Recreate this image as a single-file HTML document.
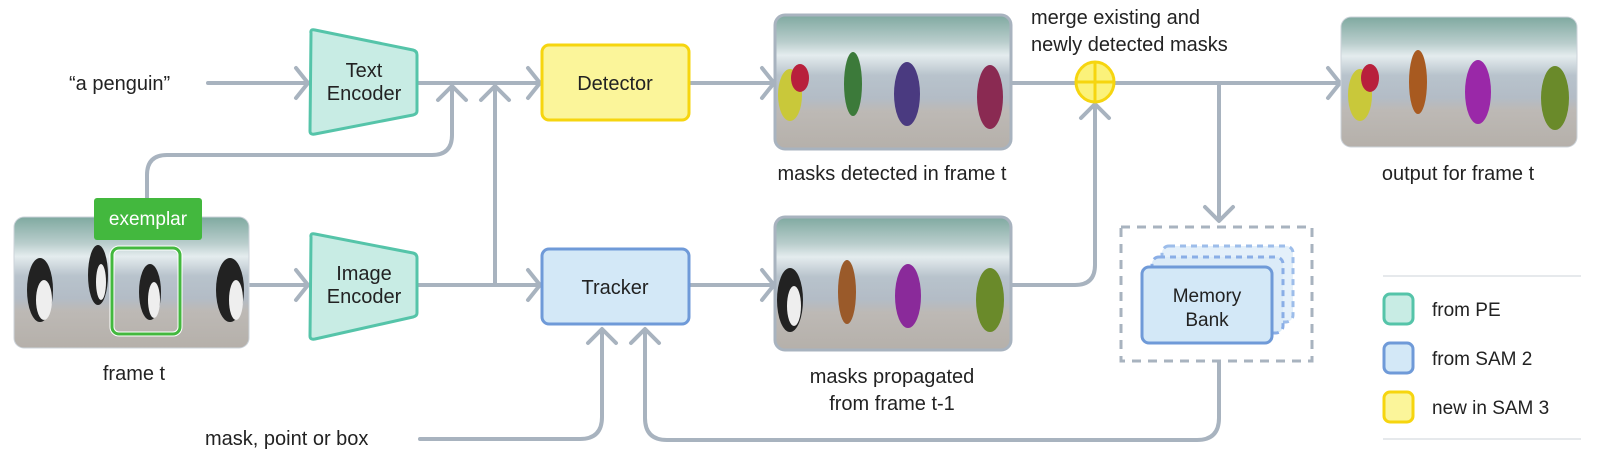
<!DOCTYPE html>
<html><head><meta charset="utf-8"><style>
body{margin:0;background:#fff;}
svg{display:block;font-family:"Liberation Sans",sans-serif;}
</style></head><body>
<svg width="1614" height="469" viewBox="0 0 1614 469" xmlns="http://www.w3.org/2000/svg">
<defs>
<linearGradient id="beach" x1="0" y1="0" x2="0" y2="1">
<stop offset="0" stop-color="#7fa9a0"/><stop offset="0.2" stop-color="#b9cdcc"/><stop offset="0.3" stop-color="#e4ecee"/><stop offset="0.45" stop-color="#b8c3cc"/><stop offset="0.62" stop-color="#b3bcc6"/><stop offset="0.72" stop-color="#bdb9b5"/><stop offset="1" stop-color="#b5b0aa"/>
</linearGradient>
<clipPath id="c1"><rect x="14" y="217" width="235" height="131" rx="10"/></clipPath>
<clipPath id="c2"><rect x="775" y="15" width="236" height="134" rx="10"/></clipPath>
<clipPath id="c3"><rect x="775" y="217" width="236" height="133" rx="10"/></clipPath>
<clipPath id="c4"><rect x="1341" y="17" width="236" height="130" rx="10"/></clipPath>
</defs>
<g fill="none" stroke="#a8b3bf" stroke-width="4" stroke-linecap="round" stroke-linejoin="round">
<!-- a penguin -> text encoder -->
<path d="M208 83 H306"/><path d="M296 68 L308 83 L296 98"/>
<!-- text encoder -> detector -->
<path d="M417 83 H538"/><path d="M528 68 L540 83 L528 98"/>
<!-- exemplar up -->
<path d="M147 198 V175 Q147 155 167 155 H432 Q452 155 452 135 V87"/><path d="M438 100 L452 86 L466 100"/>
<!-- image line up -->
<path d="M495 285 V87"/><path d="M481 100 L495 86 L509 100"/>
<!-- frame -> image encoder -->
<path d="M249 285 H306"/><path d="M296 270 L308 285 L296 300"/>
<path d="M417 285 H538"/><path d="M528 270 L540 285 L528 300"/>
<!-- detector -> masks -->
<path d="M689 83 H772"/><path d="M762 68 L774 83 L762 98"/>
<!-- tracker -> masks -->
<path d="M689 285 H772"/><path d="M762 270 L774 285 L762 300"/>
<!-- masks detected -> merge -> output -->
<path d="M1011 83 H1338"/><path d="M1328 68 L1340 83 L1328 98"/>
<!-- propagated -> merge -->
<path d="M1011 285 H1075 Q1095 285 1095 265 V106"/><path d="M1081 118 L1095 104 L1109 118"/>
<!-- branch to memory -->
<path d="M1219 83 V220"/><path d="M1205 207 L1219 221 L1233 207"/>
<!-- memory -> tracker -->
<path d="M1219 362 V418 Q1219 440 1197 440 H667 Q645 440 645 418 V330"/><path d="M631 343 L645 329 L659 343"/>
<!-- mask point box -->
<path d="M420 439 H580 Q602 439 602 417 V330"/><path d="M588 343 L602 329 L616 343"/>
</g>
<!-- encoders -->
<path d="M311 33 Q310 29 315 30 L413 50 Q417 51 417 55 V111 Q417 114 413 115 L315 134 Q310 135 310 131 Z" fill="#c8ece4" stroke="#55c4a9" stroke-width="3"/>
<path d="M311 237 Q310 233 315 234 L413 253 Q417 254 417 258 V313 Q417 316 413 317 L315 339 Q310 340 310 336 Z" fill="#c8ece4" stroke="#55c4a9" stroke-width="3"/>
<g font-size="20" fill="#222" text-anchor="middle">
<text x="364" y="77">Text</text><text x="364" y="100">Encoder</text>
<text x="364" y="280">Image</text><text x="364" y="303">Encoder</text>
</g>
<rect x="542" y="45" width="147" height="75" rx="7" fill="#fbf59a" stroke="#f6d50f" stroke-width="3"/>
<text x="615" y="90" font-size="20" fill="#222" text-anchor="middle">Detector</text>
<rect x="542" y="249" width="147" height="75" rx="7" fill="#d3e8f7" stroke="#6f9ad8" stroke-width="3"/>
<text x="615" y="294" font-size="20" fill="#222" text-anchor="middle">Tracker</text>
<!-- merge -->
<ellipse cx="1095" cy="82" rx="19" ry="20" fill="#fbf27a" stroke="#f6d50f" stroke-width="3"/>
<path d="M1095 63 V101 M1077 82 H1113" stroke="#f6d50f" stroke-width="3"/>
<!-- images -->
<g clip-path="url(#c1)"><rect x="14" y="217" width="235" height="131" fill="url(#beach)"/>
<g fill="#222"><ellipse cx="40" cy="290" rx="13" ry="32"/><ellipse cx="98" cy="275" rx="10" ry="30"/><ellipse cx="150" cy="292" rx="11" ry="28"/><ellipse cx="230" cy="290" rx="14" ry="32"/></g>
<g fill="#eee"><ellipse cx="44" cy="300" rx="8" ry="20"/><ellipse cx="101" cy="282" rx="5" ry="18"/><ellipse cx="154" cy="300" rx="6" ry="18"/><ellipse cx="236" cy="300" rx="7" ry="20"/></g></g>
<rect x="14" y="217" width="235" height="131" rx="10" fill="none" stroke="#ccd3da" stroke-width="1"/>
<rect x="112" y="248" width="68" height="86" rx="7" fill="none" stroke="#fff" stroke-width="5"/>
<rect x="112" y="248" width="68" height="86" rx="7" fill="none" stroke="#43b83e" stroke-width="3"/>
<rect x="94" y="198" width="108" height="42" rx="3" fill="#43b83e"/>
<text x="148" y="225" font-size="19" fill="#fff" text-anchor="middle">exemplar</text>
<g clip-path="url(#c2)"><rect x="775" y="15" width="236" height="134" fill="url(#beach)"/>
<ellipse cx="790" cy="95" rx="12" ry="26" fill="#c9c83a"/><ellipse cx="800" cy="78" rx="9" ry="14" fill="#b8203c"/><ellipse cx="853" cy="84" rx="9" ry="32" fill="#3c7a3a"/><ellipse cx="907" cy="94" rx="13" ry="32" fill="#4a3a80"/><ellipse cx="990" cy="97" rx="13" ry="32" fill="#8a2a52"/></g>
<rect x="775" y="15" width="236" height="134" rx="10" fill="none" stroke="#a8b3bf" stroke-width="3"/>
<g clip-path="url(#c3)"><rect x="775" y="217" width="236" height="133" fill="url(#beach)"/>
<ellipse cx="790" cy="300" rx="13" ry="32" fill="#222"/><ellipse cx="794" cy="306" rx="7" ry="20" fill="#eee"/><ellipse cx="847" cy="292" rx="9" ry="32" fill="#9a5a2a"/><ellipse cx="908" cy="296" rx="13" ry="32" fill="#8a2a9a"/><ellipse cx="990" cy="300" rx="14" ry="32" fill="#6a8a2a"/></g>
<rect x="775" y="217" width="236" height="133" rx="10" fill="none" stroke="#a8b3bf" stroke-width="3"/>
<g clip-path="url(#c4)"><rect x="1341" y="17" width="236" height="130" fill="url(#beach)"/>
<ellipse cx="1360" cy="95" rx="12" ry="26" fill="#c9c83a"/><ellipse cx="1370" cy="78" rx="9" ry="14" fill="#b8203c"/><ellipse cx="1418" cy="82" rx="9" ry="32" fill="#a85a20"/><ellipse cx="1478" cy="92" rx="13" ry="32" fill="#9a28a8"/><ellipse cx="1555" cy="98" rx="14" ry="32" fill="#6a8a2a"/></g>
<rect x="1341" y="17" width="236" height="130" rx="10" fill="none" stroke="#ccd3da" stroke-width="1"/>
<!-- memory -->
<rect x="1121" y="227" width="191" height="134" fill="none" stroke="#a8b3bf" stroke-width="3" stroke-dasharray="9 7"/>
<rect x="1162" y="246" width="131" height="76" rx="7" fill="#e4f0fa" stroke="#9dbdea" stroke-width="3" stroke-dasharray="6 5"/>
<rect x="1152" y="257" width="131" height="76" rx="7" fill="#dbebf8" stroke="#8aaee6" stroke-width="3" stroke-dasharray="6 5"/>
<rect x="1142" y="267" width="130" height="76" rx="7" fill="#d3e8f7" stroke="#6f9ad8" stroke-width="3"/>
<text x="1207" y="302" font-size="19" fill="#222" text-anchor="middle">Memory</text>
<text x="1207" y="326" font-size="19" fill="#222" text-anchor="middle">Bank</text>
<!-- legend -->
<path d="M1383 276 H1581 M1383 439 H1581" stroke="#e6e9ec" stroke-width="2"/>
<rect x="1384" y="294" width="29" height="30" rx="6" fill="#c8ece4" stroke="#55c4a9" stroke-width="3"/>
<rect x="1384" y="343" width="29" height="30" rx="6" fill="#d3e8f7" stroke="#6f9ad8" stroke-width="3"/>
<rect x="1384" y="392" width="29" height="30" rx="6" fill="#fbf59a" stroke="#f6d50f" stroke-width="3"/>
<g font-size="19" fill="#222">
<text x="1432" y="316">from PE</text><text x="1432" y="365">from SAM 2</text><text x="1432" y="414">new in SAM 3</text>
</g>
<g font-size="20" fill="#222">
<text x="69" y="90">“a penguin”</text>
<text x="134" y="380" text-anchor="middle">frame t</text>
<text x="205" y="445">mask, point or box</text>
<text x="1031" y="24">merge existing and</text>
<text x="1031" y="51">newly detected masks</text>
<text x="892" y="180" text-anchor="middle">masks detected in frame t</text>
<text x="1458" y="180" text-anchor="middle">output for frame t</text>
<text x="892" y="383" text-anchor="middle">masks propagated</text>
<text x="892" y="410" text-anchor="middle">from frame t-1</text>
</g>
</svg>
</body></html>
